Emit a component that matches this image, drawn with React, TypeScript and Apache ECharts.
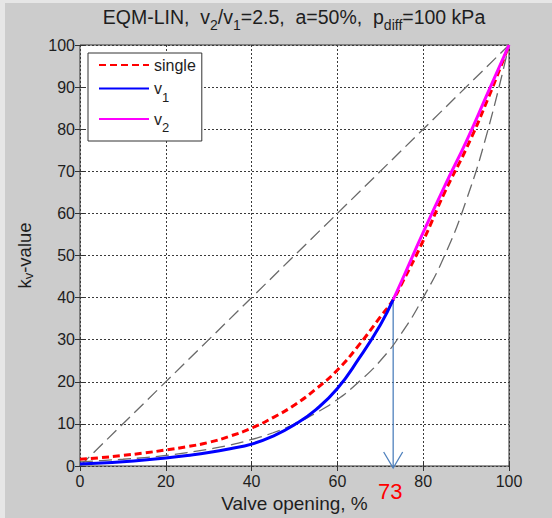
import React, { useEffect, useRef } from "react";
import * as echarts from "echarts";

// ---- data ----
const singleX = [0, 5, 10, 15, 20, 25, 30, 35, 40, 45, 50, 55, 60, 65, 70, 73, 75, 80, 85, 90, 95, 100];
const singleY = [1.6, 2.0, 2.5, 3.1, 3.8, 4.6, 5.6, 7.1, 9.0, 11.5, 14.5, 18.3, 22.8, 28.7, 35.4, 39.5, 43.3, 53.5, 65, 75.3, 87, 100];

const v1X = [0, 5, 10, 15, 20, 25, 30, 35, 40, 45, 50, 55, 60, 65, 70, 73];
const v1Y = [0.5, 0.7, 1.0, 1.4, 1.9, 2.5, 3.2, 4.1, 5.2, 7.1, 9.8, 13.4, 18.4, 25.5, 33.5, 39.5];

const v2X = [73, 75, 80, 85, 90, 95, 100];
const v2Y = [39.5, 44, 55.5, 66.5, 77, 88.5, 100];

const eqPctX = [0, 5, 10, 15, 20, 25, 30, 35, 40, 45, 50, 55, 60, 65, 70, 75, 80, 85, 90, 95, 100];
const eqPctY = [1, 1.3, 1.6, 2.0, 2.5, 3.2, 4, 5, 6.3, 7.9, 10, 12.6, 15.8, 20, 25, 31.6, 40, 50, 63, 79.5, 100];

const linX = [0, 100];
const linY = [0, 100];

const arrowX = 73;
const arrowTop = 39.5;
const arrowBottom = 0;

const xTicks = [0, 20, 40, 60, 80, 100];
const yTicks = [0, 10, 20, 30, 40, 50, 60, 70, 80, 90, 100];

const legendNames = ["single", "v1", "v2"];

const FONT = "Liberation Sans, Arial, Helvetica, sans-serif";
const TXT = "#1e1e1e";

const pairs = (xs: number[], ys: number[]) => xs.map((x, i) => [x, ys[i]]);

export default function App() {
  const ref = useRef<HTMLDivElement>(null);
  useEffect(() => {
    if (!ref.current) return;
    const chart = echarts.init(ref.current, null, { renderer: "svg" });
    const grid = { left: 80, top: 45, width: 429, height: 423 };
    const baseX = {
      type: "value",
      min: xTicks[0],
      max: xTicks[xTicks.length - 1],
      interval: xTicks[1] - xTicks[0],
    };
    const baseY = {
      type: "value",
      min: yTicks[0],
      max: yTicks[yTicks.length - 1],
      interval: yTicks[1] - yTicks[0],
    };
    const tick = { show: true, inside: true, length: 5, lineStyle: { color: "#333", width: 1 } };
    const split = { show: true, lineStyle: { color: "#3a3a3a", width: 1, type: [2, 2] } };
    const option: any = {
      animation: false,
      backgroundColor: "#cccccc",
      title: {
        left: 294,
        top: 7,
        padding: 0,
        textAlign: "center",
        text: "{n|EQM-LIN,  v}{s|2}{n|/v}{s|1}{n|=2.5,  a=50%,  p}{s|diff}{n|=100 kPa}",
        textStyle: {
          fontFamily: FONT,
          color: TXT,
          fontSize: 19.5,
          fontWeight: "normal",
          rich: {
            n: { fontFamily: FONT, fontSize: 19.5, lineHeight: 22, verticalAlign: "top", color: TXT },
            s: { fontFamily: FONT, fontSize: 14, lineHeight: 14, verticalAlign: "top", padding: [11, 0, 0, 0], color: TXT },
          },
        },
      },
      graphic: [
        { type: "rect", shape: { x: 0, y: 0, width: 5, height: 518 }, style: { fill: "#e6e6e6" }, silent: true },
        { type: "rect", shape: { x: 0, y: 0, width: 552, height: 3 }, style: { fill: "#e6e6e6" }, silent: true },
      ],
      grid: { ...grid, show: true, backgroundColor: "#ffffff", borderColor: "#333", borderWidth: 1 },
      legend: {
        data: legendNames,
        orient: "vertical",
        left: 88,
        top: 53,
        padding: [4, 6, 7, 10],
        itemWidth: 50,
        itemHeight: 14,
        itemGap: 7.5,
        backgroundColor: "#ffffff",
        borderColor: "#333",
        borderWidth: 1,
        borderRadius: 0,
        itemStyle: { opacity: 0 },
        formatter: (name: string) =>
          name === "v1" ? "{n|v}{s|1}" : name === "v2" ? "{n|v}{s|2}" : "{n|" + name + "}",
        textStyle: {
          fontFamily: FONT,
          fontSize: 16,
          color: TXT,
          rich: {
            n: { fontFamily: FONT, fontSize: 16, lineHeight: 16, verticalAlign: "top", color: TXT },
            s: { fontFamily: FONT, fontSize: 13, lineHeight: 12, verticalAlign: "top", padding: [10, 0, 0, 0], color: TXT },
          },
        },
      },
      xAxis: [
        {
          ...baseX,
          position: "bottom",
          name: "Valve opening, %",
          nameLocation: "middle",
          nameGap: 28,
          nameTextStyle: { fontFamily: FONT, fontSize: 19, color: TXT },
          axisLine: { show: false },
          axisTick: tick,
          axisLabel: { fontFamily: FONT, fontSize: 16, color: TXT, margin: 7 },
          splitLine: split,
        },
        {
          ...baseX,
          position: "top",
          axisLine: { show: false },
          axisTick: tick,
          axisLabel: { show: false },
          splitLine: { show: false },
        },
      ],
      yAxis: [
        {
          ...baseY,
          position: "left",
          name: "k{s|v}-value",
          nameLocation: "middle",
          nameGap: 45,
          nameTextStyle: {
            fontFamily: FONT,
            fontSize: 18.5,
            color: TXT,
            rich: {
              s: { fontFamily: FONT, fontSize: 13, color: TXT, verticalAlign: "bottom", padding: [9, 0, 0, 0] },
            },
          },
          axisLine: { show: false },
          axisTick: tick,
          axisLabel: { fontFamily: FONT, fontSize: 16, color: TXT, margin: 5 },
          splitLine: split,
        },
        {
          ...baseY,
          position: "right",
          axisLine: { show: false },
          axisTick: tick,
          axisLabel: { show: false },
          splitLine: { show: false },
        },
      ],
      series: [
        {
          type: "line",
          name: "eqpct",
          data: pairs(eqPctX, eqPctY),
          smooth: true,
          symbol: "none",
          lineStyle: { color: "#6a6a6a", width: 1.3, type: [13, 6] },
          silent: true,
        },
        {
          type: "line",
          name: "linear",
          data: pairs(linX, linY),
          symbol: "none",
          lineStyle: { color: "#6a6a6a", width: 1.3, type: [13, 6] },
          silent: true,
        },
        {
          type: "line",
          name: "single",
          data: pairs(singleX, singleY),
          smooth: true,
          symbol: "none",
          itemStyle: { color: "#ff0000" },
          lineStyle: { color: "#ff0000", width: 3, type: [7, 4] },
        },
        {
          type: "line",
          name: "v1",
          data: pairs(v1X, v1Y),
          smooth: true,
          symbol: "none",
          itemStyle: { color: "#0000ff" },
          lineStyle: { color: "#0000ff", width: 3 },
        },
        {
          type: "line",
          name: "v2",
          data: pairs(v2X, v2Y),
          smooth: true,
          symbol: "none",
          itemStyle: { color: "#ff00ff" },
          lineStyle: { color: "#ff00ff", width: 3 },
        },
        {
          type: "custom",
          name: "arrow",
          clip: false,
          silent: true,
          data: [[arrowX, arrowTop, arrowBottom]],
          renderItem: (params: any, api: any) => {
            const top = api.coord([api.value(0), api.value(1)]);
            const bot = api.coord([api.value(0), api.value(2)]);
            const tipY = bot[1] + 2;
            const stroke = "#4f81bd";
            return {
              type: "group",
              children: [
                {
                  type: "line",
                  shape: { x1: top[0], y1: top[1], x2: bot[0], y2: tipY },
                  style: { stroke, lineWidth: 1.3 },
                },
                {
                  type: "polyline",
                  shape: { points: [[bot[0] - 9.5, tipY - 16], [bot[0], tipY], [bot[0] + 9.5, tipY - 16]] },
                  style: { stroke, fill: null, lineWidth: 1.3 },
                },
                {
                  type: "text",
                  x: bot[0] - 3,
                  y: bot[1] + 25,
                  style: {
                    text: String(api.value(0)),
                    fill: "#ff0000",
                    fontSize: 22,
                    fontFamily: FONT,
                    align: "center",
                    verticalAlign: "middle",
                  },
                },
              ],
            };
          },
        },
      ],
    };
    chart.setOption(option);
    return () => chart.dispose();
  }, []);
  return (
    <div
      ref={ref}
      style={{ position: "absolute", left: 0, top: 0, width: 552, height: 518 }}
    />
  );
}
